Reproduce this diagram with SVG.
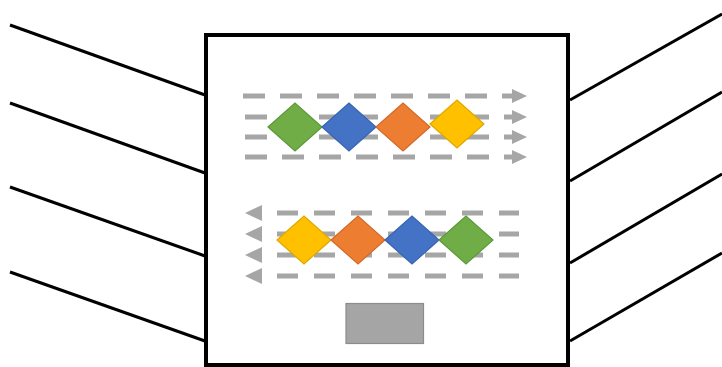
<svg xmlns="http://www.w3.org/2000/svg" width="722" height="367" viewBox="0 0 722 367">
<style>
.wire{stroke:#000;stroke-width:3;fill:none}
.dash{stroke:#A6A6A6;stroke-width:5;fill:none}
.head{fill:#A6A6A6}
.d{stroke-width:1.2}
.g{fill:#70AD47;stroke:#5B9A38}
.b{fill:#4472C4;stroke:#3864B4}
.o{fill:#ED7D31;stroke:#D4682A}
.y{fill:#FFC000;stroke:#DDA800}
</style>
<g id="wires">
<line class="wire" x1="10" y1="25" x2="205" y2="95"/>
<line class="wire" x1="10" y1="103" x2="205" y2="173"/>
<line class="wire" x1="10" y1="187" x2="205" y2="256"/>
<line class="wire" x1="10" y1="272" x2="205" y2="341"/>
<line class="wire" x1="570" y1="100" x2="722" y2="14"/>
<line class="wire" x1="570" y1="181" x2="722" y2="92"/>
<line class="wire" x1="570" y1="263" x2="722" y2="174"/>
<line class="wire" x1="570" y1="341" x2="722" y2="253"/>
</g>
<g id="box">
<rect x="206" y="35" width="362" height="330" fill="#fff" stroke="#000" stroke-width="4"/>
</g>
<g id="top-flow">
<line class="dash" x1="243" y1="96" x2="513" y2="96" stroke-dasharray="22 15"/>
<line class="dash" x1="245" y1="117" x2="513" y2="117" stroke-dasharray="22 15"/>
<line class="dash" x1="245" y1="137" x2="513" y2="137" stroke-dasharray="22 15"/>
<line class="dash" x1="245" y1="157" x2="513" y2="157" stroke-dasharray="22 15"/>
<polygon class="head" points="512,89 527,96 512,103"/>
<polygon class="head" points="512,110 527,117 512,124"/>
<polygon class="head" points="512,130 527,137 512,144"/>
<polygon class="head" points="512,150 527,157 512,164"/>
</g>
<g id="bottom-flow">
<line class="dash" x1="277" y1="213" x2="519" y2="213" stroke-dasharray="21 16"/>
<line class="dash" x1="277" y1="234" x2="519" y2="234" stroke-dasharray="21 16"/>
<line class="dash" x1="277" y1="255" x2="519" y2="255" stroke-dasharray="21 16"/>
<line class="dash" x1="277" y1="276" x2="519" y2="276" stroke-dasharray="21 16"/>
<polygon class="head" points="262,205 245,213 262,221"/>
<polygon class="head" points="262,226 245,234 262,242"/>
<polygon class="head" points="262,247 245,255 262,263"/>
<polygon class="head" points="262,268 245,276 262,284"/>
</g>
<g id="top-green"><polygon class="d g" points="268,127 295,103 322,127 295,151"/></g>
<g id="top-blue"><polygon class="d b" points="322,127 349,103 376,127 349,151"/></g>
<g id="top-orange"><polygon class="d o" points="376,127 403,103 430,127 403,151"/></g>
<g id="top-yellow"><polygon class="d y" points="430,124 457,100 484,124 457,148"/></g>
<g id="bot-yellow"><polygon class="d y" points="277,240 304,216 331,240 304,264"/></g>
<g id="bot-orange"><polygon class="d o" points="331,240 358,216 385,240 358,264"/></g>
<g id="bot-blue"><polygon class="d b" points="385,240 412,216 439,240 412,264"/></g>
<g id="bot-green"><polygon class="d g" points="439,240 466,216 493,240 466,264"/></g>
<g id="block"><rect x="346" y="303.5" width="77.5" height="40" fill="#A5A5A5" stroke="#8C8C8C" stroke-width="1.2"/></g>
</svg>
